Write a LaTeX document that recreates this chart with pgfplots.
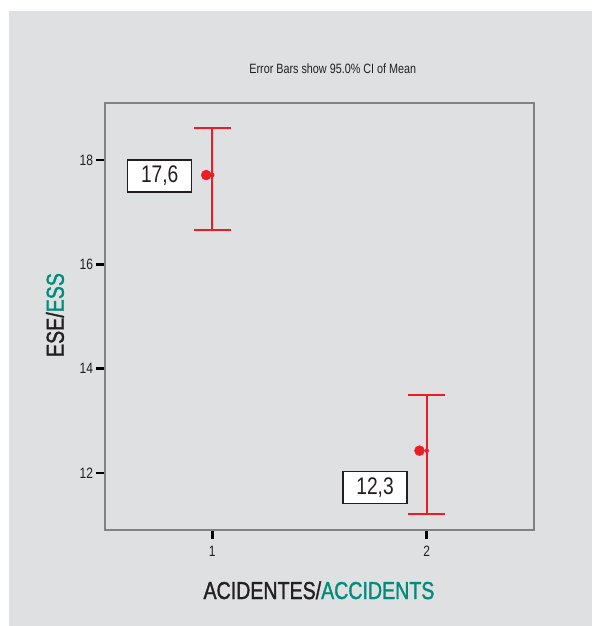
\documentclass[border=0pt]{standalone}
\usepackage{fontspec}
\setmainfont{Liberation Sans}[FakeStretch=0.8]
\newfontfamily\medfont{Liberation Sans}[FakeStretch=0.8, FakeBold=1.3]
\usepackage{pgfplots}
\pgfplotsset{compat=1.18}
\definecolor{bggray}{RGB}{223,224,226}
\definecolor{framegray}{RGB}{130,130,130}
\definecolor{ered}{RGB}{237,28,36}
\definecolor{eteal}{RGB}{0,140,122}
\definecolor{dark}{RGB}{35,31,32}
\begin{document}
\begin{tikzpicture}
\fill[white] (-105pt,-96pt) rectangle (487pt,530pt);
\fill[bggray] (-96pt,-96pt) rectangle (487pt,519pt);
\begin{axis}[
  at={(0pt,0pt)}, anchor=south west,
  scale only axis, width=429pt, height=427pt,
  xmin=0.5, xmax=2.5, ymin=10.91, ymax=19.09,
  axis line style={framegray, line width=1.3pt},
  xtick={1,2}, ytick={12,14,16,18},
  xtick pos=bottom, ytick pos=left,
  tick align=outside, major tick length=8.5pt,
  major tick style={black, line width=2.6pt},
  ticklabel style={font=\fontsize{15}{15}\selectfont, text=dark},
  xticklabel style={yshift=-4pt},
  /pgf/number format/assume math mode=true,
  clip=false,
]
\addplot[color=ered, only marks, mark=none, forget plot,
  error bars/.cd, y dir=both, y explicit, error mark=|,
  error bar style={color=ered, line width=2pt},
  error mark options={color=ered, line width=2pt, mark size=18.5pt}]
  table[x=x, y=y, y error plus=ep, y error minus=em] {
x y ep em
1 17.71 0.90 1.05
2 12.43 1.06 1.22
};
\addplot[only marks, mark=*, mark size=5pt, color=ered] coordinates {(0.972,17.71) (1.966,12.43)};
\node[draw=dark, fill=white, line width=1.2pt, minimum width=64pt, minimum height=32pt, inner sep=0pt,
  font=\fontsize{24}{24}\selectfont, text=dark] at (axis cs:0.755,17.69) {17,6};
\node[draw=dark, fill=white, line width=1.2pt, minimum width=64pt, minimum height=32pt, inner sep=0pt,
  font=\fontsize{24}{24}\selectfont, text=dark] at (axis cs:1.759,11.726) {12,3};
\node[font=\fontsize{13.5}{13.5}\selectfont, text=dark] at (rel axis cs:0.531,1.0796) {Error Bars show 95.0\% CI of Mean};
\node[rotate=90, font=\medfont\fontsize{24.5}{24.5}\selectfont] at (rel axis cs:-0.1166,0.5035) {\textcolor{dark}{ESE/}\textcolor{eteal}{ESS}};
\node[anchor=base, font=\medfont\fontsize{24.5}{24.5}\selectfont] at (rel axis cs:0.4988,-0.1616) {\textcolor{dark}{ACIDENTES/}\textcolor{eteal}{ACCIDENTS}};
\end{axis}
\end{tikzpicture}
\end{document}
